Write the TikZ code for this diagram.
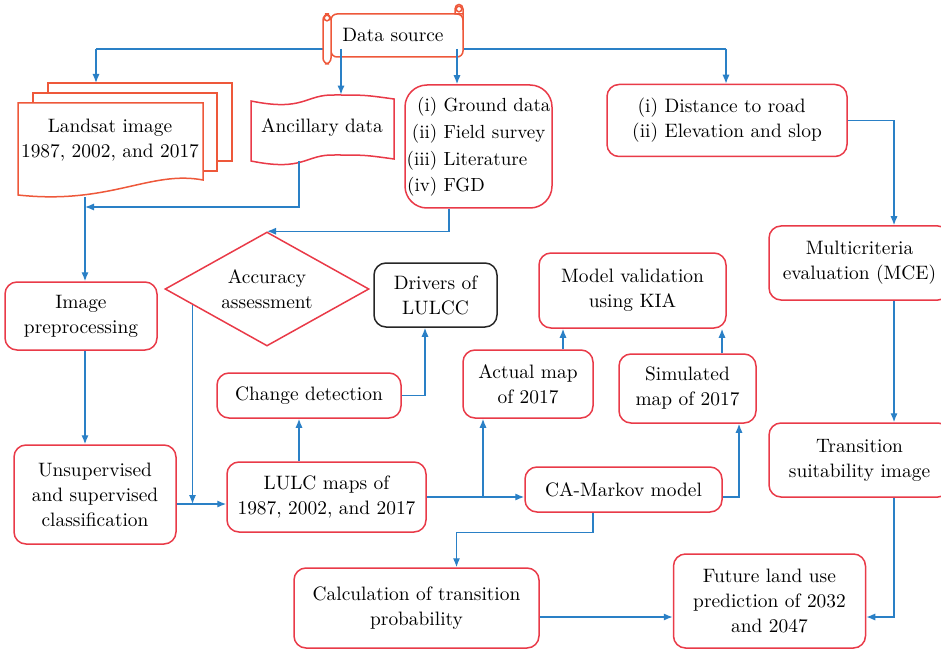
\documentclass[tikz,border=0pt]{standalone}
\usetikzlibrary{shapes.geometric, arrows.meta, positioning, calc}
\definecolor{boxred}{RGB}{233,58,72}
\definecolor{scrollred}{RGB}{238,88,58}
\definecolor{linkblue}{RGB}{42,128,198}
\newcommand{\boxfont}{\fontsize{9.7}{12.5}\selectfont}

\begin{document}
\begin{tikzpicture}[x=0.5pt, y=-0.5pt,
  fbox/.style={draw=boxred, line width=0.75pt, fill=white, rounded corners=6pt, align=center, font=\boxfont, inner sep=2pt},
  dbox/.style={fbox, draw=black!85},
  link/.style={draw=linkblue, line width=0.7pt, -{Latex[length=4.5pt, width=3.6pt]}},
  trunk/.style={draw=linkblue, line width=0.7pt},
  sheet/.style={draw=scrollred, line width=0.75pt, fill=white},
  plain/.style={align=center, font=\boxfont, inner sep=0pt}
]
\useasboundingbox (0,0) rectangle (941,652);

% helper columns and rows
\coordinate (trk) at (393,49);
\coordinate (j1) at (96,49);
\coordinate (j2) at (341,49);
\coordinate (j3) at (457,49);
\coordinate (j4) at (726,49);
\coordinate (j5) at (299,207);
\coordinate (c1) at (85,0);
\coordinate (c2) at (894,0);
\coordinate (c3) at (0,617);
\coordinate (c4) at (0,504);
\coordinate (b1) at (483,497);

% data source fan-out (behind the scroll)
\draw[trunk] (j1) -- (j4);

% data source scroll
\filldraw[sheet, rounded corners=3pt] (331,14) -- (463,14) -- (463,57) -- (331,57) -- cycle;
\filldraw[sheet] (463,30) -- (463,9) .. controls (463,3) and (455,3) .. (455,9) -- (455,14) -- (463,14);
\draw[sheet] (459,9) circle[radius=1.4pt];
\filldraw[sheet, rounded corners=3pt] (323,14) rectangle (331,64);
\draw[sheet] (327,18) circle[radius=1.4pt];
\node[plain] (src) at (393,35) {Data source};

% landsat stack
\filldraw[sheet] (48,83) rectangle (232,161);
\filldraw[sheet] (33,93) rectangle (217,171);
\filldraw[sheet] (18,103) -- (203,103) -- (203,180) .. controls (150,170) and (110,205) .. (18,195) -- cycle;
\node[plain, minimum width=92.5pt, minimum height=57pt] (land) at (110,140) {Landsat image\\1987, 2002, and 2017};
\coordinate (land3) at (140,83);

% ancillary tape
\filldraw[draw=boxred, line width=0.75pt, fill=white] (251,101) .. controls (305,112) and (305,94) .. (335,95) .. controls (365,95) .. (394,99) -- (394,159) .. controls (365,155) .. (335,155) .. controls (305,154) and (305,172) .. (251,161) -- cycle;
\node[plain, minimum width=71.5pt, minimum height=33pt] (anc) at (322,128) {Ancillary data};

% boxes
\node[fbox, rounded corners=11pt, inner sep=0.5pt, minimum width=73.5pt, minimum height=61.5pt, font=\fontsize{9.5}{13.3}\selectfont] (gd) at (478.5,146.5)
  {\begin{tabular}{@{}r@{\ }l@{}}(i)&Ground data\\(ii)&Field survey\\(iii)&Literature\\(iv)&FGD\end{tabular}};
\node[fbox, minimum width=120pt, minimum height=36pt] (dist) at (727,120.5)
  {\begin{tabular}{@{}r@{\ }l@{}}(i)&Distance to road\\(ii)&Elevation and slop\end{tabular}};
\node[fbox, minimum width=90.5pt, minimum height=37pt] (mce) at (859.5,263) {Multicriteria\\evaluation (MCE)};
\node[fbox, minimum width=90.5pt, minimum height=37pt] (tsi) at (859.5,460) {Transition\\suitability image};
\node[fbox, minimum width=76pt, minimum height=34pt] (pre) at (81,316) {Image\\preprocessing};
\node[draw=boxred, line width=0.75pt, diamond, shape aspect=1.8, minimum width=102pt, minimum height=57pt, inner sep=0pt, align=center, font=\boxfont] (acc) at (267,289) {Accuracy\\assessment};
\node[dbox, minimum width=61.5pt, minimum height=32pt] (drv) at (435.5,295) {Drivers of\\LULCC};
\node[fbox, minimum width=93.5pt, minimum height=37.5pt] (val) at (632.5,290.5) {Model validation\\using KIA};
\node[fbox, minimum width=65pt, minimum height=34pt] (act) at (528,384) {Actual map\\of 2017};
\node[fbox, minimum width=68.5pt, minimum height=34.5pt] (sim) at (687.5,388.5) {Simulated\\map of 2017};
\node[fbox, minimum width=92pt, minimum height=22.5pt] (chg) at (309,395.5) {Change detection};
\node[fbox, minimum width=81pt, minimum height=49.5pt] (uns) at (95,494.5) {Unsupervised\\and supervised\\classification};
\node[fbox, minimum width=99.5pt, minimum height=35pt] (lulc) at (326.5,497) {LULC maps of\\1987, 2002, and 2017};
\node[fbox, minimum width=98.5pt, minimum height=22.5pt] (cam) at (623.5,489.5) {CA-Markov model};
\node[fbox, minimum width=122.5pt, minimum height=40pt] (calc) at (416.5,608) {Calculation of transition\\probability};
\node[fbox, minimum width=96pt, minimum height=47pt] (fut) at (769.5,601) {Future land use\\prediction of 2032\\and 2047};

% connectors from the source
\draw[link] (j1) -- (j1 |- land3);
\draw[link] (j2) -- (j2 |- anc.north);
\draw[link] (j3) -- (j3 |- gd.north);
\draw[link] (j4) -- (j4 |- dist.north);

% left chain
\draw[link] (j5 |- anc.south) -- (j5) -- (c1 |- j5);
\draw[link] (c1 |- land.south) -- (c1 |- pre.north);
\draw[link] (c1 |- pre.south) -- (c1 |- uns.north);
\draw[link] (uns.east |- c4) -- (lulc.west |- c4);
\draw[link] ($(acc.west)!0.275!(acc.south)$) coordinate (a1) -- (a1 |- c4);
\draw[link] ([xshift=-14.75pt]gd.south) |- (acc.north);

% right chain
\draw[link] (dist.east) -| (c2 |- mce.north);
\draw[link] (c2 |- mce.south) -- (c2 |- tsi.north);
\draw[link] (c2 |- tsi.south) |- (fut.east |- c3);
\draw[link] (calc.east |- c3) -- (fut.west |- c3);

% middle
\draw[link] ([xshift=-13.75pt]lulc.north) coordinate (a2) -- (a2 |- chg.south);
\draw[link] (chg.east) -| ([xshift=-5.25pt]drv.south);
\draw[link] (lulc.east) -- (cam.west |- lulc.east);
\draw[link] (b1) -- (b1 |- act.south);
\draw[link] ([xshift=17.5pt]act.north) coordinate (a3) -- (a3 |- val.south);
\draw[link] ([xshift=17.25pt]sim.north) coordinate (a4) -- (a4 |- val.south);
\draw[link] (cam.east |- lulc.east) -| ([xshift=25.75pt]sim.south);
\draw[link] ([xshift=-15.25pt]cam.south) -- ++(0,-10pt) -| ([xshift=20pt]calc.north);
\end{tikzpicture}
\end{document}
